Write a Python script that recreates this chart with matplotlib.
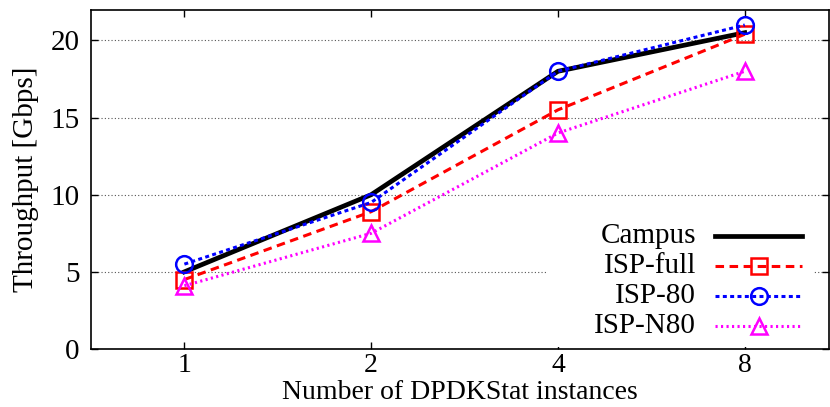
import matplotlib
matplotlib.use("Agg")
import matplotlib.pyplot as plt
from matplotlib.lines import Line2D
from matplotlib.patches import Rectangle

plt.rcParams["font.family"] = ["Liberation Serif", "DejaVu Serif"]

# data
instances = ["1", "2", "4", "8"]
campus = [5.0, 10.0, 18.0, 20.5]
isp_full = [4.5, 8.9, 15.5, 20.4]
isp_80 = [5.5, 9.5, 18.0, 21.0]
isp_n80 = [4.1, 7.5, 14.0, 18.0]
yticks = [0, 5, 10, 15, 20]

x = list(range(len(instances)))

fig = plt.figure(figsize=(8.3, 4.07), dpi=100)
ax = fig.add_axes([0.1096, 0.1425, 0.889, 0.834])

styles = [
    ("Campus", campus, dict(color="black", lw=3.4, linestyle="-"), None),
    ("ISP-full", isp_full, dict(color="#ff0000", lw=2.2, dashes=(2.8, 1.8)), "s"),
    ("ISP-80", isp_80, dict(color="#0000ff", lw=2.2, dashes=(1.3, 1.1)), "o"),
    ("ISP-N80", isp_n80, dict(color="#ff00ff", lw=2.2, dashes=(0.7, 1.1)), "^"),
]
zorders = [3, 3, 4, 3]

for (name, vals, st, mk), z in zip(styles, zorders):
    ax.plot(x, vals, marker=mk, ms=12, mfc="none", mew=1.8, zorder=z, **st)

ax.set_xlim(-0.5, 3.45)
ax.set_ylim(0, 22)
ax.set_xticks(x)
ax.set_xticklabels(instances)
ax.set_yticks(yticks)
ax.tick_params(direction="in", length=5, width=1, labelsize=21,
               top=True, right=True)
ax.tick_params(axis="y", pad=8)
ax.tick_params(axis="x", pad=3, labelsize=20)
ax.yaxis.grid(True, color="#555555", linestyle=(0, (1, 2)), lw=0.8)
ax.set_axisbelow(True)
for s in ax.spines.values():
    s.set_linewidth(1.2)

ax.set_ylabel("Throughput [Gbps]", fontsize=21, labelpad=8)
ax.set_xlabel("Number of DPDKStat instances", fontsize=20, labelpad=1)

# gnuplot-style key: labels right-aligned, samples on the right
ax.add_patch(Rectangle((0.62, 0.005), 0.36, 0.375, transform=ax.transAxes,
                       facecolor="white", edgecolor="none", zorder=5))
rows_y = [0.333, 0.244, 0.156, 0.068]
for (name, vals, st, mk), yy in zip(styles, rows_y):
    ax.text(0.820, yy, name, transform=ax.transAxes, ha="right", va="center",
            fontsize=21, zorder=6)
    ax.add_line(Line2D([0.846, 0.905, 0.964], [yy, yy, yy],
                       transform=ax.transAxes, marker=mk, markevery=[1],
                       ms=12, mfc="none", mew=1.8, zorder=6, **st))

fig.savefig("out.png", dpi=100)
